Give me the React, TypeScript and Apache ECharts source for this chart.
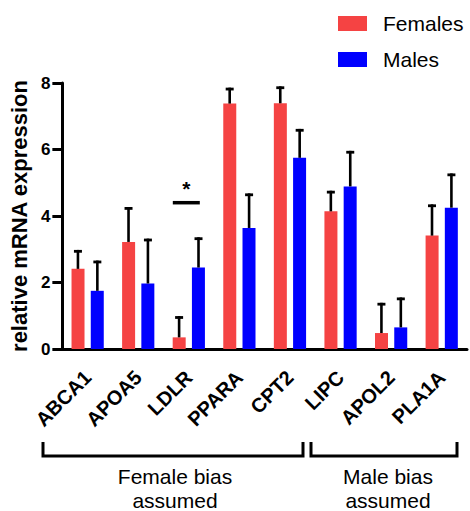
import React, { useEffect, useRef } from "react";
import * as echarts from "echarts";

const genes = ["ABCA1", "APOA5", "LDLR", "PPARA", "CPT2", "LIPC", "APOL2", "PLA1A"];
const femaleMean = [2.41, 3.22, 0.35, 7.38, 7.39, 4.14, 0.48, 3.41];
const femaleErr = [0.57, 1.05, 0.64, 0.48, 0.51, 0.62, 0.91, 0.94];
const maleMean = [1.75, 1.97, 2.45, 3.64, 5.75, 4.89, 0.65, 4.25];
const maleErr = [0.91, 1.35, 0.91, 1.04, 0.87, 1.07, 0.9, 1.03];
const yTicks = [0, 2, 4, 6, 8];
const sigGene = "LDLR";
const sigLevel = 4.4;
const sigLabel = "*";
const groupLabels = ["Female bias\nassumed", "Male bias\nassumed"];

const FONT = "'Liberation Sans', Arial, Helvetica, sans-serif";
const RED = "#F54343";
const BLUE = "#0000FF";

function errorSeries(name: string, mean: number[], err: number[], offset: number) {
  return {
    type: "custom",
    name: name + "-err",
    z: 5,
    silent: true,
    data: mean.map((m, i) => [i, m, m + err[i]]),
    renderItem: (params: any, api: any) => {
      const idx = api.value(0);
      const base = api.coord([idx, api.value(1)]);
      const top = api.coord([idx, api.value(2)]);
      const x = base[0] + offset;
      return {
        type: "group",
        children: [
          {
            type: "line",
            shape: { x1: x, y1: base[1], x2: x, y2: top[1] },
            style: { stroke: "#000", lineWidth: 2.6 },
          },
          {
            type: "line",
            shape: { x1: x - 4, y1: top[1] + 1.4, x2: x + 4, y2: top[1] + 1.4 },
            style: { stroke: "#000", lineWidth: 2.8 },
          },
        ],
      };
    },
  };
}

export default function App() {
  const ref = useRef<HTMLDivElement>(null);
  useEffect(() => {
    if (!ref.current) return;
    const chart = echarts.init(ref.current, null, { renderer: "svg" });
    const sigIdx = genes.indexOf(sigGene);
    chart.setOption({
      animation: false,
      textStyle: { fontFamily: FONT },
      legend: {
        orient: "vertical",
        left: 338,
        top: 13,
        padding: 0,
        itemGap: 15,
        itemWidth: 29,
        itemHeight: 15,
        icon: "rect",
        data: ["Females", "Males"],
        textStyle: { fontSize: 21, color: "#000", fontFamily: FONT, padding: [0, 0, 0, 11] },
      },
      grid: { left: 62, top: 83, width: 405, height: 266, containLabel: false },
      xAxis: {
        type: "category",
        data: genes,
        axisLine: { lineStyle: { color: "#000", width: 3 } },
        axisTick: { alignWithLabel: true, length: 11, lineStyle: { color: "#000", width: 3 } },
        axisLabel: {
          rotate: 45,
          margin: 25,
          fontSize: 20,
          fontWeight: "bold",
          color: "#000",
          fontFamily: FONT,
          interval: 0,
        },
      },
      yAxis: {
        type: "value",
        min: yTicks[0],
        max: yTicks[yTicks.length - 1],
        interval: 2,
        name: "relative mRNA expression",
        nameLocation: "middle",
        nameGap: 24,
        nameTextStyle: { fontSize: 22, fontWeight: "bold", color: "#000", fontFamily: FONT },
        splitLine: { show: false },
        axisLine: { show: true, lineStyle: { color: "#000", width: 3 } },
        axisTick: { show: true, length: 10, lineStyle: { color: "#000", width: 3 } },
        axisLabel: { margin: 12, fontSize: 17, fontWeight: "bold", color: "#000", fontFamily: FONT },
      },
      series: [
        {
          type: "bar",
          name: "Females",
          data: femaleMean,
          barWidth: 13,
          barGap: "48%",
          itemStyle: { color: RED },
        },
        {
          type: "bar",
          name: "Males",
          data: maleMean,
          barWidth: 13,
          barGap: "48%",
          itemStyle: { color: BLUE },
        },
        errorSeries("Females", femaleMean, femaleErr, -9.7),
        errorSeries("Males", maleMean, maleErr, 9.7),
        {
          type: "custom",
          name: "sig",
          z: 6,
          silent: true,
          data: [[sigIdx, sigLevel]],
          renderItem: (params: any, api: any) => {
            const p = api.coord([api.value(0), api.value(1)]);
            return {
              type: "group",
              children: [
                {
                  type: "line",
                  shape: { x1: p[0] - 16, y1: p[1], x2: p[0] + 11, y2: p[1] },
                  style: { stroke: "#000", lineWidth: 3.5 },
                },
                {
                  type: "text",
                  style: {
                    x: p[0] - 2.5,
                    y: p[1] - 4,
                    text: sigLabel,
                    fontSize: 21,
                    fontWeight: "bold",
                    fontFamily: FONT,
                    fill: "#000",
                    align: "center",
                    verticalAlign: "bottom",
                  },
                },
              ],
            };
          },
        },
      ],
      graphic: [
        {
          type: "polyline",
          shape: { points: [[43, 442], [43, 456], [303, 456], [303, 442]] },
          style: { stroke: "#000", lineWidth: 3, fill: null },
        },
        {
          type: "polyline",
          shape: { points: [[311, 442], [311, 456], [457, 456], [457, 442]] },
          style: { stroke: "#000", lineWidth: 3, fill: null },
        },
        {
          type: "text",
          x: 175,
          y: 488,
          style: {
            text: groupLabels[0],
            fontSize: 21,
            lineHeight: 24,
            fontFamily: FONT,
            fill: "#000",
            align: "center",
            verticalAlign: "middle",
          },
        },
        {
          type: "text",
          x: 388,
          y: 488,
          style: {
            text: groupLabels[1],
            fontSize: 21,
            lineHeight: 24,
            fontFamily: FONT,
            fill: "#000",
            align: "center",
            verticalAlign: "middle",
          },
        },
      ],
    });
    return () => chart.dispose();
  }, []);
  return <div ref={ref} style={{ width: 470, height: 511, position: "absolute", left: 0, top: 0 }} />;
}
